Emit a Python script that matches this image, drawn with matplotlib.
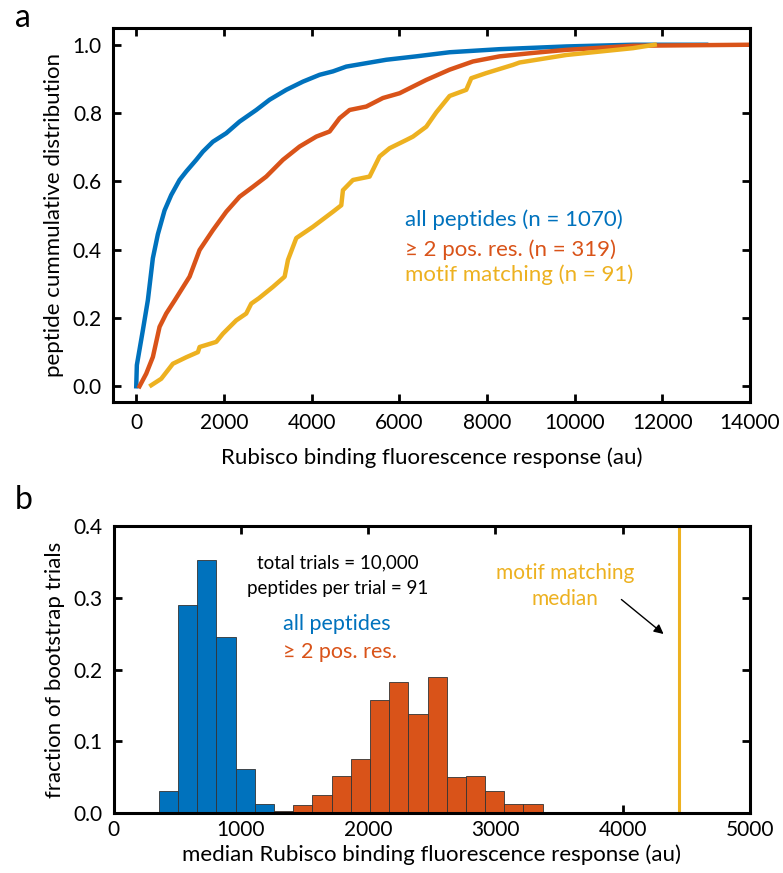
import matplotlib
matplotlib.use("Agg")
import matplotlib.pyplot as plt
import numpy as np

plt.rcParams['font.family'] = ['Lato', 'DejaVu Sans']

BLUE = '#0072BD'
ORANGE = '#D95319'
YELLOW = '#EDB120'

# ---- panel a: cumulative distributions ----
all_x = [0, 14, 151, 265, 379, 493, 646, 798, 988, 1141, 1369, 1520, 1748, 2053, 2357,
         2738, 3042, 3423, 3803, 4183, 4487, 4791, 5247, 5703, 6388, 7148, 8289, 9810,
         11331, 13000]
all_y = [0.0, 0.062, 0.164, 0.252, 0.375, 0.445, 0.515, 0.56, 0.604, 0.629, 0.663,
         0.687, 0.716, 0.741, 0.775, 0.809, 0.839, 0.868, 0.892, 0.912, 0.922, 0.936,
         0.946, 0.956, 0.966, 0.978, 0.987, 0.995, 1.0, 1.0]

pos_x = [75, 228, 380, 532, 684, 880, 1217, 1445, 1748, 2053, 2357, 2661, 2966, 3346, 3727,
         4107, 4411, 4639, 4867, 5247, 5627, 6007, 6616, 7148, 7680, 8289, 9049, 9810,
         11331, 14000]
pos_y = [0.0, 0.037, 0.086, 0.174, 0.213, 0.252, 0.321, 0.399, 0.457, 0.511, 0.555, 0.584,
         0.614, 0.663, 0.702, 0.731, 0.746, 0.785, 0.809, 0.819, 0.844, 0.858, 0.897,
         0.927, 0.951, 0.966, 0.976, 0.985, 0.997, 1.0]

motif_x = [342, 570, 836, 1141, 1407, 1445, 1825, 1977, 2281, 2509, 2623, 2800, 3118, 3385,
           3461, 3651, 4031, 4487, 4677, 4715, 4943, 5323, 5551, 5779, 6159, 6312, 6616,
           6844, 7148, 7528, 7642, 7984, 8593, 8745, 9810, 10570, 11331, 11826]
motif_y = [0.003, 0.022, 0.066, 0.085, 0.1, 0.115, 0.13, 0.154, 0.193, 0.213, 0.242, 0.258,
           0.291, 0.321, 0.370, 0.434, 0.467, 0.511, 0.530, 0.574, 0.604, 0.614, 0.673,
           0.697, 0.721, 0.731, 0.760, 0.802, 0.850, 0.868, 0.902, 0.917, 0.941, 0.948,
           0.970, 0.980, 0.990, 1.0]

labels_a = ['all peptides (n = 1070)', '\u2265 2 pos. res. (n = 319)', 'motif matching (n = 91)']

# ---- panel b: bootstrap histograms ----
bin_start = 357
bin_width = 150.7
all_frac = [0.030, 0.290, 0.353, 0.245, 0.061, 0.012]
pos_frac = [0.003, 0.011, 0.025, 0.052, 0.075, 0.157, 0.183, 0.138, 0.190, 0.050, 0.052,
            0.031, 0.012, 0.012]
pos_first_bin = 6
motif_median = 4440


fig = plt.figure(figsize=(7.83, 8.73), dpi=100)
W, H = 783.0, 873.0

def style(ax):
    for s in ax.spines.values():
        s.set_linewidth(2.2)
    ax.tick_params(direction='in', top=True, right=True, length=6, width=2,
                   labelsize=15, pad=8)

# panel a
ax1 = fig.add_axes([113/W, 1-402/H, (750-113)/W, (402-28)/H])
ax1.plot(all_x, all_y, color=BLUE, lw=3.2, solid_joinstyle='round')
ax1.plot(pos_x, pos_y, color=ORANGE, lw=3.2, solid_joinstyle='round')
ax1.plot(motif_x, motif_y, color=YELLOW, lw=3.2, solid_joinstyle='round')
ax1.set_xlim(-530, 14000)
ax1.set_ylim(-0.046, 1.049)
ax1.set_xticks(np.arange(0, 14001, 2000))
ax1.set_yticks(np.arange(0, 1.01, 0.2))
ax1.set_yticklabels(['%.1f' % v for v in np.arange(0, 1.01, 0.2)])
style(ax1)
ax1.set_xlabel('Rubisco binding fluorescence response (au)', fontsize=16, labelpad=10)
ax1.set_ylabel('peptide cummulative distribution', fontsize=16, labelpad=6)
for lab, yy, c in zip(labels_a, [0.487, 0.399, 0.326], [BLUE, ORANGE, YELLOW]):
    ax1.text(6120, yy, lab, color=c, fontsize=16, va='center', ha='left')

# panel b
ax2 = fig.add_axes([113.5/W, 1-813/H, (750-113.5)/W, (813-526)/H])
edges = bin_start + bin_width * np.arange(len(all_frac) + 1)
ax2.bar(edges[:-1], all_frac, width=bin_width, align='edge', color=BLUE,
        edgecolor='#333333', linewidth=0.6)
pedges = bin_start + bin_width * np.arange(pos_first_bin, pos_first_bin + len(pos_frac))
ax2.bar(pedges, pos_frac, width=bin_width, align='edge', color=ORANGE,
        edgecolor='#333333', linewidth=0.6)
ax2.axvline(motif_median, color=YELLOW, lw=2.2)
ax2.set_xlim(0, 5000)
ax2.set_ylim(0, 0.4)
ax2.set_xticks(np.arange(0, 5001, 1000))
ax2.set_yticks(np.arange(0, 0.41, 0.1))
ax2.set_yticklabels(['%.1f' % v for v in np.arange(0, 0.41, 0.1)])
ax2.set_axisbelow(True)
style(ax2)
ax2.tick_params(axis='x', pad=5)
ax2.set_xlabel('median Rubisco binding fluorescence response (au)', fontsize=16, labelpad=3)
ax2.set_ylabel('fraction of bootstrap trials', fontsize=16, labelpad=6)
ax2.text(1763, 0.349, 'total trials = 10,000', fontsize=13.5, ha='center', va='center')
ax2.text(1763, 0.313, 'peptides per trial = 91', fontsize=13.5, ha='center', va='center')
ax2.text(1334, 0.263, 'all peptides', color=BLUE, fontsize=15.5, ha='left', va='center')
ax2.text(1334, 0.225, '\u2265 2 pos. res.', color=ORANGE, fontsize=15.5, ha='left', va='center')
ax2.text(3547, 0.334, 'motif matching', color=YELLOW, fontsize=15, ha='center', va='center')
ax2.text(3547, 0.298, 'median', color=YELLOW, fontsize=15, ha='center', va='center')
ax2.annotate('', xy=(4338, 0.247), xytext=(3973, 0.300),
             arrowprops=dict(arrowstyle='-|>', color='black', lw=1, mutation_scale=14))

fig.text(15/W, 1-18/H, 'a', fontsize=23, va='center', ha='left')
fig.text(15/W, 1-500/H, 'b', fontsize=23, va='center', ha='left')

fig.savefig('out.png', dpi=100)
